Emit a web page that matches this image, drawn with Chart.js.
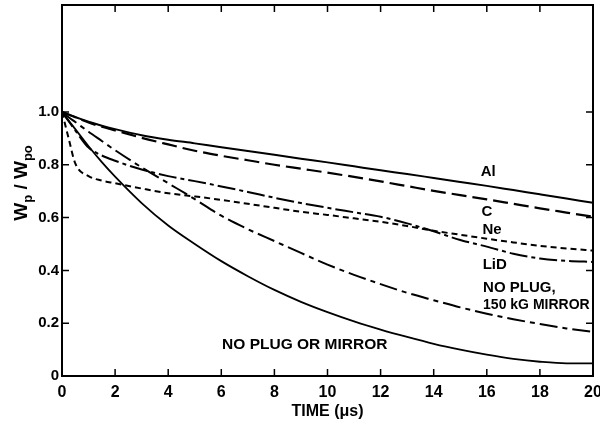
<!DOCTYPE html>
<html>
<head>
<meta charset="utf-8">
<script src="https://cdn.jsdelivr.net/npm/chart.js@4.4.1/dist/chart.umd.min.js"></script>
<style>
  html, body { margin: 0; padding: 0; background: #fff; }
  #wrap { width: 600px; height: 425px; }
</style>
</head>
<body>
<div id="wrap"><canvas id="myChart" width="600" height="425"></canvas></div>
<script>
// time in microseconds
const time = [0, 0.25, 0.5, 1, 1.5, 2, 3, 4, 5, 6, 7, 8, 9, 10, 11, 12, 13, 14, 15, 16, 17, 18, 19, 20];

// Wp / Wpo for each case
const alValues     = [1.0, 0.99, 0.981, 0.963, 0.948, 0.935, 0.912, 0.895, 0.881, 0.866, 0.852, 0.838, 0.823, 0.809, 0.794, 0.779, 0.765, 0.75, 0.735, 0.72, 0.704, 0.688, 0.672, 0.656];
const cValues      = [1.0, 0.99, 0.98, 0.96, 0.944, 0.93, 0.902, 0.877, 0.853, 0.834, 0.817, 0.8, 0.785, 0.77, 0.754, 0.737, 0.719, 0.701, 0.685, 0.669, 0.652, 0.635, 0.619, 0.603];
const neValues     = [1.0, 0.9, 0.805, 0.757, 0.74, 0.73, 0.71, 0.692, 0.68, 0.667, 0.652, 0.637, 0.622, 0.61, 0.597, 0.584, 0.568, 0.55, 0.535, 0.52, 0.506, 0.493, 0.483, 0.475];
const lidValues    = [1.0, 0.965, 0.93, 0.865, 0.835, 0.815, 0.782, 0.757, 0.738, 0.718, 0.697, 0.675, 0.655, 0.637, 0.62, 0.603, 0.578, 0.548, 0.515, 0.49, 0.463, 0.445, 0.436, 0.432];
const mirrorValues = [1.0, 0.98, 0.962, 0.925, 0.89, 0.855, 0.79, 0.73, 0.67, 0.607, 0.556, 0.511, 0.466, 0.422, 0.383, 0.348, 0.315, 0.287, 0.26, 0.236, 0.215, 0.197, 0.18, 0.167];
const noPlugValues = [1.0, 0.967, 0.935, 0.87, 0.81, 0.755, 0.655, 0.57, 0.5, 0.435, 0.378, 0.326, 0.281, 0.242, 0.207, 0.176, 0.148, 0.122, 0.1, 0.081, 0.065, 0.054, 0.048, 0.048];

const xTicks = [0, 2, 4, 6, 8, 10, 12, 14, 16, 18, 20];
const yTicks = [0, 0.2, 0.4, 0.6, 0.8, 1.0];
const yTickLabels = ["0", "0.2", "0.4", "0.6", "0.8", "1.0"];

// curve labels: [text, x, y, align, font size]
const curveLabels = [
  ["Al", 16.05, 0.773, "center", 15],
  ["C", 16.0, 0.621, "center", 15],
  ["Ne", 16.2, 0.553, "center", 15],
  ["LiD", 16.3, 0.42, "center", 15],
  ["NO PLUG,", 15.86, 0.333, "left", 15],
  ["150 kG MIRROR", 15.86, 0.268, "left", 14],
  ["NO PLUG OR MIRROR", 6.03, 0.117, "left", 15.5],
];

const FONT = "'Liberation Sans', Arial, sans-serif";

function pts(vals) {
  return time.map((t, i) => ({ x: t, y: vals[i] }));
}

function line(label, vals, dash, width) {
  return {
    label: label,
    data: pts(vals),
    borderColor: "#000",
    borderWidth: width,
    borderDash: dash,
    pointRadius: 0,
    fill: false,
    cubicInterpolationMode: "monotone",
  };
}

const framePlugin = {
  id: "frame",
  afterDraw(chart) {
    const ctx = chart.ctx;
    const a = chart.chartArea;
    const xs = chart.scales.x;
    const ys = chart.scales.y;
    ctx.save();
    ctx.strokeStyle = "#000";
    ctx.lineWidth = 2;
    ctx.strokeRect(a.left, a.top, a.right - a.left, a.bottom - a.top);

    // inward ticks on all four sides
    ctx.lineWidth = 1.5;
    ctx.beginPath();
    xTicks.forEach((t) => {
      const px = xs.getPixelForValue(t);
      ctx.moveTo(px, a.bottom); ctx.lineTo(px, a.bottom - 7);
      ctx.moveTo(px, a.top); ctx.lineTo(px, a.top + 7);
    });
    yTicks.forEach((t) => {
      const py = ys.getPixelForValue(t);
      ctx.moveTo(a.left, py); ctx.lineTo(a.left + 7, py);
      ctx.moveTo(a.right, py); ctx.lineTo(a.right - 7, py);
    });
    ctx.stroke();

    // curve labels
    ctx.fillStyle = "#000";
    ctx.textBaseline = "middle";
    curveLabels.forEach(([txt, x, y, align, size]) => {
      ctx.font = "bold " + size + "px " + FONT;
      ctx.textAlign = align;
      ctx.fillText(txt, xs.getPixelForValue(x), ys.getPixelForValue(y));
    });

    // y axis title  W_p / W_po
    ctx.translate(27, 183);
    ctx.rotate(-Math.PI / 2);
    ctx.textAlign = "left";
    ctx.textBaseline = "alphabetic";
    const big = "bold 19px " + FONT;
    const small = "bold 13px " + FONT;
    const parts = [["W", big, 0], ["p", small, 5], [" / ", big, 0], ["W", big, 0], ["po", small, 5]];
    let total = 0;
    parts.forEach(([s, f]) => { ctx.font = f; total += ctx.measureText(s).width; });
    let cx = -total / 2;
    parts.forEach(([s, f, dy]) => {
      ctx.font = f;
      ctx.fillText(s, cx, dy);
      cx += ctx.measureText(s).width;
    });
    ctx.restore();
  },
};

const config = {
  type: "line",
  data: {
    datasets: [
      line("Al", alValues, [], 2),
      line("C", cValues, [15, 6], 2.2),
      line("Ne", neValues, [6, 4], 2),
      line("LiD", lidValues, [18, 4, 4, 4], 2),
      line("NO PLUG, 150 kG MIRROR", mirrorValues, [18, 5, 5, 5], 2),
      line("NO PLUG OR MIRROR", noPlugValues, [], 1.8),
    ],
  },
  options: {
    responsive: false,
    animation: false,
    layout: { padding: { top: 5, right: 7, left: 0, bottom: 0 } },
    plugins: {
      legend: { display: false },
      tooltip: { enabled: false },
    },
    scales: {
      x: {
        type: "linear",
        min: 0,
        max: 20,
        afterFit: (s) => { s.height = 49; s.paddingLeft = 0; s.paddingRight = 0; },
        afterBuildTicks: (s) => { s.ticks = xTicks.map((v) => ({ value: v })); },
        grid: { display: false, drawTicks: false },
        border: { display: false },
        ticks: {
          color: "#000",
          padding: 7,
          maxRotation: 0,
          font: { family: FONT, size: 16, weight: "bold" },
          callback: (v) => String(v),
        },
        title: {
          display: true,
          text: "TIME (μs)",
          color: "#000",
          padding: { top: 0, bottom: 4 },
          font: { family: FONT, size: 16, weight: "bold" },
        },
      },
      y: {
        type: "linear",
        min: 0,
        max: 1.405,
        afterFit: (s) => { s.width = 62; s.paddingTop = 0; s.paddingBottom = 0; },
        afterBuildTicks: (s) => { s.ticks = yTicks.map((v) => ({ value: v })); },
        grid: { display: false, drawTicks: false },
        border: { display: false },
        ticks: {
          color: "#000",
          padding: 3,
          font: { family: FONT, size: 15, weight: "bold" },
          callback: (v) => yTickLabels[yTicks.findIndex((t) => Math.abs(t - v) < 1e-6)],
        },
      },
    },
  },
  plugins: [framePlugin],
};

new Chart(document.getElementById("myChart").getContext("2d"), config);
</script>
</body>
</html>
